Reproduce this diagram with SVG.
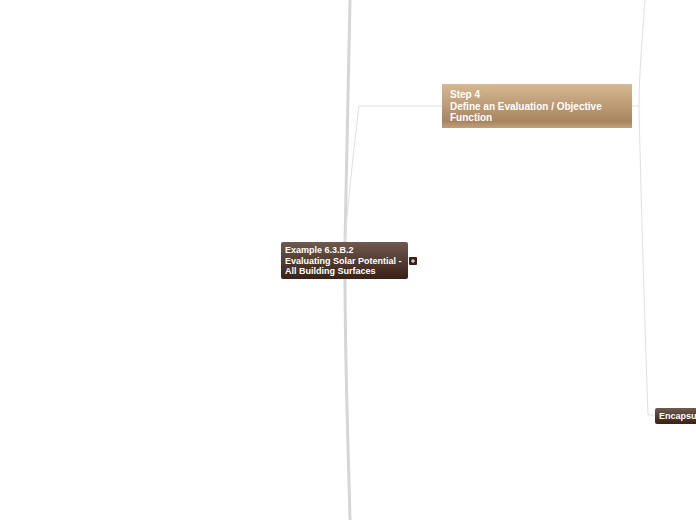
<svg xmlns="http://www.w3.org/2000/svg" width="696" height="520" viewBox="0 0 696 520">
<defs>
<linearGradient id="gDark" x1="0" y1="0" x2="0" y2="1">
<stop offset="0" stop-color="#6e5a4e"/>
<stop offset="1" stop-color="#3a2017"/>
</linearGradient>
<linearGradient id="gTan" x1="0" y1="0" x2="0" y2="1">
<stop offset="0" stop-color="#d6b892"/>
<stop offset="0.85" stop-color="#a8855f"/>
<stop offset="1" stop-color="#c0a07a"/>
</linearGradient>
<style>
.t{font-family:"Liberation Sans",Arial,sans-serif;font-weight:bold;fill:#ffffff;font-size:9px}
.t10{font-size:10px}
.thick{fill:none;stroke:#d6d6d6;stroke-width:3}
.thin{fill:none;stroke:#e0e0e0;stroke-width:1}
</style>
</defs>
<rect width="696" height="520" fill="#ffffff"/>
<g id="connectors">
<path class="thick" d="M350,0 C348,80 346,160 345,242"/>
<path class="thick" d="M345,279 C345,360 348,440 350,520"/>
<path class="thin" d="M345,242 C348,200 356,130 359,106 L442,106"/>
<path class="thin" d="M632,106 L639,106"/>
<path class="thin" d="M645,0 C642,40 639,80 639,106 C641,200 645,330 648,415 L655,415"/>
</g>
<g id="node-central">
<rect x="281" y="242" width="127" height="37" rx="2" fill="url(#gDark)"/>
<text class="t" x="285" y="253">Example 6.3.B.2</text>
<text class="t" x="285" y="264">Evaluating Solar Potential -</text>
<text class="t" x="285" y="274">All Building Surfaces</text>
<rect x="409" y="257" width="8" height="8" rx="1" fill="#3a2017"/>
<path d="M411,261 L415,261 M413,259 L413,263" stroke="#ffffff" stroke-width="1"/>
</g>
<g id="node-step4">
<rect x="442" y="84" width="190" height="44" fill="url(#gTan)"/>
<text class="t t10" x="450" y="98">Step 4</text>
<text class="t t10" x="450" y="110">Define an Evaluation / Objective</text>
<text class="t t10" x="450" y="121">Function</text>
</g>
<g id="node-encapsu">
<rect x="655" y="408" width="45" height="16" rx="2" fill="url(#gDark)"/>
<text class="t" x="659" y="419">Encapsu</text>
</g>
</svg>
